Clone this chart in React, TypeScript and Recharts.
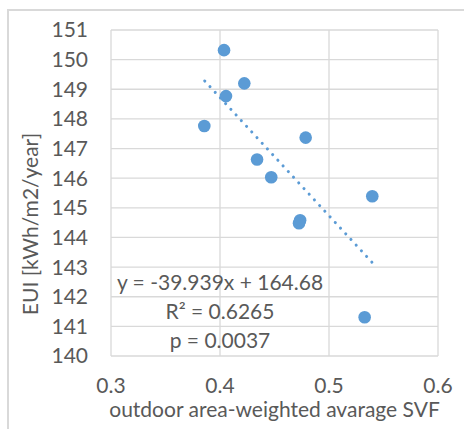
import {
  ScatterChart,
  Scatter,
  XAxis,
  YAxis,
  CartesianGrid,
  ReferenceLine,
  Customized,
} from "recharts";

// values
const svf = [0.4037, 0.4223, 0.4055, 0.3856, 0.4786, 0.434, 0.447, 0.5397, 0.4735, 0.4725, 0.5327];
const eui = [150.32, 149.2, 148.77, 147.76, 147.37, 146.63, 146.03, 145.39, 144.58, 144.48, 141.31];

const xTicks = [0.3, 0.4, 0.5, 0.6];
const yTicks = [140, 141, 142, 143, 144, 145, 146, 147, 148, 149, 150, 151];

// dotted linear trendline, ends as drawn
const trendStart = { x: 0.386, y: 149.28 };
const trendEnd = { x: 0.54, y: 143.14 };

const fitText = ["y = -39.939x + 164.68", "R² = 0.6265", "p = 0.0037"];
const xTitle = "outdoor area-weighted avarage SVF";
const yTitle = "EUI [kWh/m2/year]";

const points = svf.map((x, i) => ({ x, y: eui[i] }));

const FONT = "Lato, 'Open Sans', sans-serif";
const TEXT = "#595959";
const GRID = "#d9d9d9";
const BLUE = "#5b9bd5";
const TICK = { fontSize: 21, fill: TEXT, fontFamily: FONT };

function Dot(props: { cx?: number; cy?: number }) {
  return <circle cx={props.cx} cy={props.cy} r={6.3} fill={BLUE} />;
}

function Labels() {
  return (
    <g fontFamily={FONT} fill={TEXT}>
      <text x={220} y={290} fontSize={21} textAnchor="middle">{fitText[0]}</text>
      <text x={220} y={319.3} fontSize={21} textAnchor="middle">{fitText[1]}</text>
      <text x={220} y={348.3} fontSize={21} textAnchor="middle">{fitText[2]}</text>
      <text x={274.5} y={416.7} fontSize={21} textAnchor="middle">{xTitle}</text>
      <text x={38} y={224} fontSize={21} textAnchor="middle" transform="rotate(-90, 38, 224)">
        {yTitle}
      </text>
    </g>
  );
}

export default function App() {
  return (
    <div style={{ position: "absolute", left: 0, top: 0, width: 464, height: 429, background: "#fff", overflow: "hidden" }}>
      <div
        style={{
          position: "absolute",
          left: 7,
          top: 8.5,
          width: 480,
          height: 440,
          borderTop: `2px solid ${GRID}`,
          borderLeft: `2px solid ${GRID}`,
        }}
      />
      <div style={{ position: "absolute", left: 0, top: 0 }}>
        <ScatterChart width={464} height={429} margin={{ top: 30, right: 26, bottom: 0, left: 0 }}>
          <CartesianGrid stroke={GRID} strokeWidth={1.3} />
          <XAxis
            type="number"
            dataKey="x"
            domain={[0.3, 0.6]}
            ticks={xTicks}
            tickFormatter={(v) => String(Number(v.toFixed(1)))}
            tick={TICK}
            tickLine={false}
            tickSize={0}
            tickMargin={22}
            axisLine={false}
            height={73}
            interval={0}
          />
          <YAxis
            type="number"
            dataKey="y"
            domain={[140, 151]}
            ticks={yTicks}
            tick={TICK}
            tickLine={false}
            tickSize={0}
            tickMargin={23}
            axisLine={false}
            width={111}
            interval={0}
          />
          <ReferenceLine
            segment={[trendStart, trendEnd]}
            stroke={BLUE}
            strokeWidth={3}
            strokeDasharray="0.1 7.6"
            strokeLinecap="round"
            ifOverflow="extendDomain"
          />
          <Scatter data={points} fill={BLUE} shape={<Dot />} isAnimationActive={false} />
          <Customized component={Labels} />
        </ScatterChart>
      </div>
    </div>
  );
}
